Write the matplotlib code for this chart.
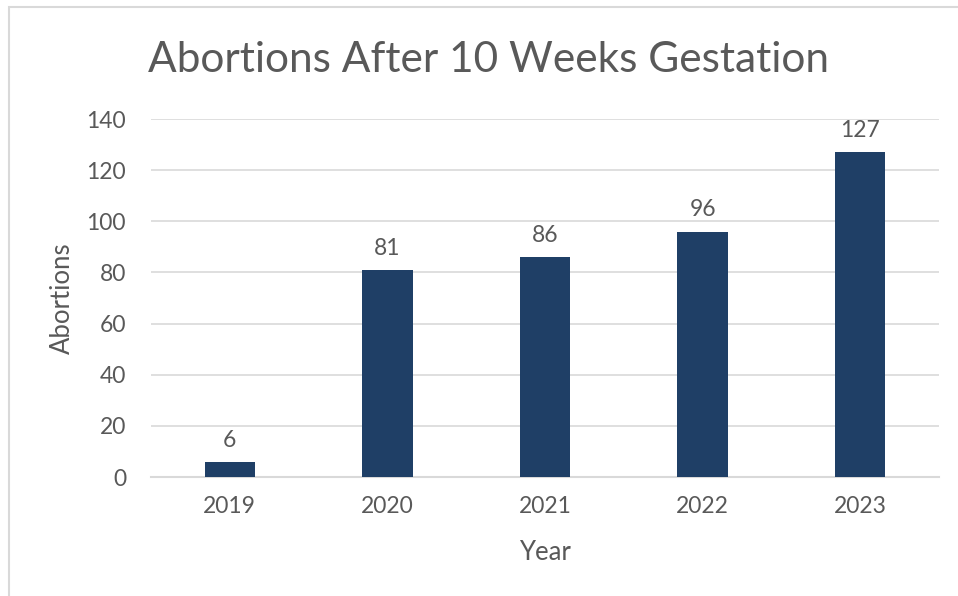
import matplotlib.pyplot as plt
from matplotlib.patches import Rectangle

years = ['2019', '2020', '2021', '2022', '2023']
abortions = [6, 81, 86, 96, 127]
yticks = [0, 20, 40, 60, 80, 100, 120, 140]

bar_color = '#1f3f66'
text_color = '#595959'

plt.rcParams['font.family'] = ['Lato', 'DejaVu Sans']

fig = plt.figure(figsize=(9.58, 5.96), dpi=100)
ax = fig.add_axes([151 / 958, 119 / 596, (939 - 151) / 958, (477 - 119) / 596])

x = range(len(years))
bars = ax.bar(x, abortions, width=0.32, color=bar_color, zorder=3)
for xi, v in zip(x, abortions):
    ax.annotate(str(v), (xi, v), xytext=(0, 8), textcoords='offset points',
                ha='center', va='bottom', fontsize=16.5, color=text_color)

ax.set_xlim(-0.5, len(years) - 0.5)
ax.set_ylim(0, 140)
ax.set_yticks(yticks)
ax.set_xticks(list(x))
ax.set_xticklabels(years)
ax.yaxis.grid(True, color='#d9d9d9', linewidth=1.2, zorder=0)
ax.tick_params(length=0, labelsize=16.5, labelcolor=text_color)
ax.tick_params(axis='x', pad=14)
ax.tick_params(axis='y', pad=18)
for s in ['top', 'right', 'left']:
    ax.spines[s].set_visible(False)
ax.spines['bottom'].set_color('#d9d9d9')
ax.spines['bottom'].set_linewidth(1.5)

ax.set_xlabel('Year', fontsize=18.5, color=text_color, labelpad=16)
ax.set_ylabel('Abortions', fontsize=18.5, color=text_color, labelpad=8)

fig.text(488 / 958, 1 - 60 / 596, 'Abortions After 10 Weeks Gestation',
         ha='center', va='center', fontsize=30.5, color=text_color)

fig.patches.append(Rectangle((9 / 958, -0.1), 1.2, 1 - 7 / 596 + 0.1,
                             transform=fig.transFigure, fill=False,
                             edgecolor='#d9d9d9', linewidth=1.5))

fig.savefig('out.png', dpi=100)
